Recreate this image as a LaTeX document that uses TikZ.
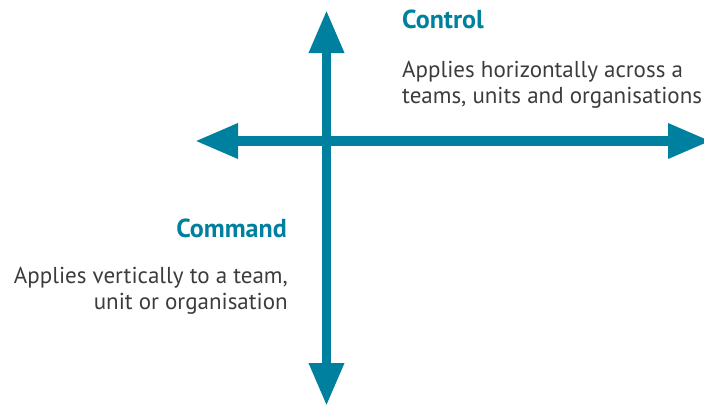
\documentclass[tikz,border=0pt]{standalone}
\usepackage{fontspec}
\setmainfont{PT Sans}
\usetikzlibrary{arrows.meta}
\definecolor{axisteal}{HTML}{00809F}
\definecolor{bodygrey}{HTML}{3C3C3C}
\tikzset{
  axis/.style={line width=9.5pt, draw=axisteal,
    {Triangle[length=43pt,width=33pt]}-{Triangle[length=43pt,width=33pt]}},
  heading/.style={font=\fontsize{26}{30}\selectfont\bfseries, text=axisteal, inner sep=0pt},
  blurb/.style={font=\fontsize{23}{26}\selectfont, text=bodygrey, inner sep=0pt},
}
\begin{document}
\begin{tikzpicture}[x=1pt,y=-1pt]
	\useasboundingbox (0,0) rectangle (704,407);
	\clip (0,0) rectangle (704,407);
	% ends of the two axes
	\coordinate (vtop) at (326.5,10);
	\coordinate (vbot) at (326.5,406);
	\coordinate (hleft) at (195,141);
	\coordinate (hright) at (711,141);
	\draw[axis] (hleft) -- (hright);
	\draw[axis] (vtop) -- (vbot);
	% control, upper right
	\node[heading, anchor=base west] (control) at (402,28) {Control};
	\node[blurb, anchor=base west, align=left] (controltext) at (402,103)
		{Applies horizontally across a\\teams, units and organisations};
	% command, lower left
	\node[heading, anchor=base east] (command) at (287,237) {Command};
	\node[blurb, anchor=base east, align=right] (commandtext) at (288,309)
		{Applies vertically to a team,\\unit or organisation};
\end{tikzpicture}
\end{document}
